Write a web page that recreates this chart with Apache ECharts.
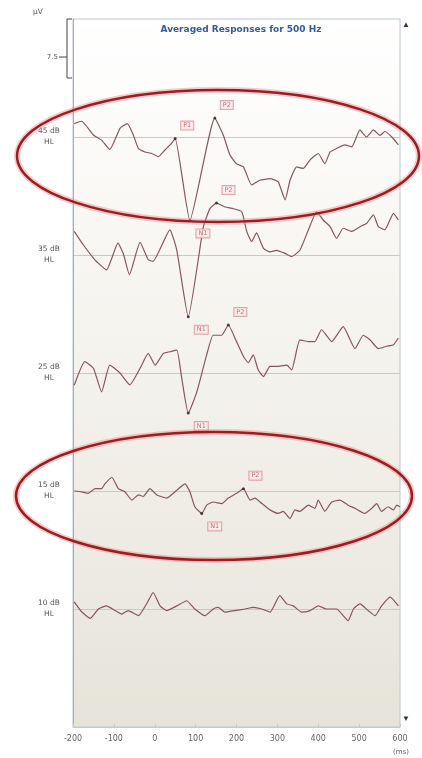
<!DOCTYPE html>
<html>
<head>
<meta charset="utf-8">
<script src="https://cdn.jsdelivr.net/npm/echarts@6/dist/echarts.min.js"></script>
<style>
  html, body { margin: 0; padding: 0; background: #fff; }
  #chart { width: 422px; height: 758px; }
</style>
</head>
<body>
<div id="chart"></div>
<script>
// 刺激强度 (dB HL) 与每条曲线的基线位置 (µV)
const levels = ['45 dB', '35 dB', '25 dB', '15 dB', '10 dB']
const offsets = [75, 60, 45, 30, 15]
const xTicks = [-200, -100, 0, 100, 200, 300, 400, 500, 600]

// 各强度下的平均波形 [时间 ms, 相对基线的幅值 µV]
const trace45 = [[-197,1.7],[-179,2.0],[-150,0.25],[-130,-0.4],[-110,-1.6],[-85,1.1],[-67,1.7],[-52,0.2],[-40,-1.45],[-24,-1.9],[-7,-2.1],[9,-2.5],[25,-1.65],[41,-0.8],[50,-0.2],[86,-10.6],[147,2.4],[168,0.2],[184,-2.3],[200,-3.4],[217,-3.8],[237,-6.1],[257,-5.5],[282,-5.3],[302,-5.7],[319,-8.0],[331,-5.5],[347,-3.8],[363,-4.0],[380,-2.9],[400,-2.1],[416,-3.4],[429,-1.9],[445,-1.45],[465,-1.0],[482,-1.25],[502,0.9],[518,0],[535,0.9],[551,0.2],[563,0.7],[580,0],[596,-1.0]]
const trace35 = [[-197,3.0],[-175,1.3],[-150,-0.4],[-142,-0.85],[-118,-1.9],[-90,1.5],[-77,0.2],[-62,-2.5],[-36,1.6],[-16,-0.6],[-4,-0.8],[37,3.2],[54,0.6],[82,-7.85],[119,3.6],[135,5.9],[151,6.6],[172,6.1],[192,5.9],[213,5.5],[225,3.0],[237,1.7],[249,2.8],[266,0.85],[282,0.4],[298,0.6],[319,0.2],[335,-0.2],[355,0.6],[376,3.2],[396,5.5],[412,4.45],[429,3.6],[445,2.1],[461,3.4],[482,3.0],[502,3.6],[518,4.0],[535,5.1],[547,3.6],[563,3.2],[584,5.3],[596,4.45]]
const trace25 = [[-197,-1.55],[-171,1.45],[-150,0.6],[-130,-2.4],[-110,1.0],[-85,0],[-61,-1.5],[-36,0.6],[-16,2.5],[1,1.0],[21,2.5],[37,2.7],[54,2.9],[66,-0.65],[82,-5.1],[103,-2.4],[127,2.3],[143,4.8],[164,4.8],[180,6.1],[200,4.0],[217,2.1],[229,1.3],[241,2.3],[253,0.4],[266,-0.45],[282,0.85],[302,0.85],[323,1.0],[335,0.4],[355,4.2],[376,4.0],[392,4.0],[408,5.5],[433,4.0],[461,5.9],[490,3.1],[510,4.8],[527,4.2],[547,3.1],[567,3.4],[584,3.6],[596,4.45]]
const trace15 = [[-197,0],[-179,-0.1],[-163,-0.3],[-146,0.3],[-130,0.3],[-122,0.9],[-105,1.75],[-89,0.3],[-73,-0.1],[-56,-1.15],[-40,-0.5],[-28,-0.7],[-12,0.3],[5,-0.5],[29,-0.9],[54,0.1],[74,0.9],[86,-0.1],[98,-2.0],[115,-2.85],[127,-1.8],[143,-1.4],[164,-1.6],[180,-0.9],[200,-0.3],[217,0.3],[233,-1.15],[245,-0.9],[262,-1.6],[282,-2.4],[302,-2.85],[314,-2.6],[331,-3.5],[343,-2.4],[355,-2.6],[376,-1.8],[392,-2.2],[400,-1.15],[416,-2.6],[433,-1.4],[453,-1.15],[473,-1.8],[490,-2.2],[514,-2.85],[531,-2.2],[543,-1.6],[555,-2.6],[571,-2.0],[584,-2.4],[592,-1.8],[600,-2.0]]
const trace10 = [[-197,0.9],[-179,-0.35],[-158,-1.2],[-138,0],[-118,0.4],[-97,-0.2],[-81,-0.65],[-65,-0.2],[-40,-0.85],[-20,0.65],[-4,2.1],[13,0.4],[29,-0.2],[54,0.4],[78,1.05],[98,0],[123,-0.85],[143,0],[155,0.2],[172,-0.4],[196,-0.2],[221,0],[241,0.2],[262,0],[282,-0.4],[306,1.7],[323,0.65],[339,0.4],[359,-0.4],[380,-0.2],[400,0.4],[420,0],[445,0],[461,-0.85],[473,-1.5],[486,0],[502,0.65],[522,-0.2],[539,-0.85],[555,0.4],[576,1.5],[596,0.4]]
const traces = [trace45, trace35, trace25, trace15, trace10]

// 标出的波峰 (P1 / N1 / P2)
const peakTrace = [0, 0, 0, 1, 1, 2, 2, 3, 3]
const peakName = ['P1', 'N1', 'P2', 'N1', 'P2', 'N1', 'P2', 'N1', 'P2']
const peakTime = [50, 86, 147, 82, 151, 82, 180, 115, 217]
const peakValue = [-0.2, -10.6, 2.4, -7.85, 6.6, -5.1, 6.1, -2.85, 0.3]

const chart = echarts.init(document.getElementById('chart'))
const lineColor = '#87565a'

const series = traces.map((tr, i) => ({
    type: 'line',
    data: tr.map(p => [p[0], offsets[i] + p[1]]),
    showSymbol: false,
    smooth: 0.15,
    lineStyle: { color: lineColor, width: 1.2 },
    silent: true,
    z: 3,
}))

// 波峰的小黑点 + 粉色方框标签
series.push({
    type: 'scatter',
    symbolSize: 3,
    itemStyle: { color: '#222' },
    z: 5,
    data: peakName.map((n, k) => ({
        value: [peakTime[k], offsets[peakTrace[k]] + peakValue[k]],
        name: n,
        label: {
            show: true,
            position: 'inside',
            offset: n === 'N1' ? [13, 13] : [12, -13],
            formatter: '{b}',
            fontSize: 6.5,
            fontFamily: 'DejaVu Sans',
            color: '#c0474d',
            backgroundColor: '#fbeeee',
            borderColor: '#dc8e93',
            borderWidth: 1,
            padding: [1, 2, 0, 2],
        },
    })),
})

const option = {
    animation: false,
    title: {
        text: 'Averaged Responses for 500 Hz',
        left: 236,
        top: 20,
        textAlign: 'center',
        textStyle: { color: '#2f5c9e', fontSize: 9, fontWeight: 'bold', fontFamily: 'DejaVu Sans' },
    },
    grid: {
        left: 73, right: 22, top: 19, bottom: 31,
        show: true,
        borderColor: '#bcc6d2',
        borderWidth: 1,
        backgroundColor: new echarts.graphic.LinearGradient(0, 0, 0, 1, [
            { offset: 0, color: '#ffffff' },
            { offset: 0.45, color: '#f5f3ee' },
            { offset: 1, color: '#e6e4d9' },
        ]),
    },
    xAxis: {
        type: 'value',
        min: -200, max: 600, interval: 100,
        axisLine: { lineStyle: { color: '#c6cacf' } },
        axisTick: { inside: true, length: 3, lineStyle: { color: '#c6cacf' } },
        splitLine: { show: false },
        axisLabel: {
            color: '#666', fontSize: 8, margin: 8, fontFamily: 'DejaVu Sans',
            formatter: v => (xTicks.indexOf(v) >= 0 ? String(v) : ''),
        },
    },
    yAxis: {
        type: 'value',
        min: 0, max: 90, interval: 15,
        axisLine: { show: true, onZero: false, lineStyle: { color: '#a9adb3' } },
        axisTick: { show: false },
        splitLine: { show: true, showMinLine: false, showMaxLine: false, lineStyle: { color: '#c9c9c9', width: 1 } },
        axisLabel: {
            align: 'center', margin: 24, fontSize: 7.5, lineHeight: 11, color: '#555', fontFamily: 'DejaVu Sans',
            formatter: v => {
                const i = offsets.indexOf(v)
                return i >= 0 ? levels[i] + '\nHL' : ''
            },
        },
    },
    graphic: [
        // µV 标尺
        { type: 'text', left: 33, top: 8, style: { text: 'µV', fontSize: 7.5, fill: '#555', fontFamily: 'DejaVu Sans' } },
        { type: 'polyline', shape: { points: [[72, 19], [67, 19], [67, 78], [72, 78]] }, style: { stroke: '#444', lineWidth: 1, fill: null } },
        { type: 'line', shape: { x1: 59, y1: 57, x2: 67, y2: 57 }, style: { stroke: '#444', lineWidth: 1 } },
        { type: 'text', x: 58, y: 57, style: { text: '7.5', fontSize: 7, fill: '#555', align: 'right', verticalAlign: 'middle', fontFamily: 'DejaVu Sans' } },
        // 滚动箭头
        { type: 'text', x: 406, y: 25, style: { text: '▲', fontSize: 8, fill: '#333', align: 'center', verticalAlign: 'middle' } },
        { type: 'text', x: 406, y: 719, style: { text: '▼', fontSize: 8, fill: '#333', align: 'center', verticalAlign: 'middle' } },
        { type: 'text', x: 393, y: 752, style: { text: '(ms)', fontSize: 7, fill: '#666', verticalAlign: 'middle', fontFamily: 'DejaVu Sans' } },
        // 两个红色圈注
        { type: 'ellipse', z: 20, shape: { cx: 218, cy: 156, rx: 201, ry: 66 }, style: { stroke: 'rgba(235,140,140,0.45)', lineWidth: 6, fill: null } },
        { type: 'ellipse', z: 21, shape: { cx: 218, cy: 156, rx: 201, ry: 66 }, style: { stroke: '#9b1d24', lineWidth: 2.5, fill: null } },
        { type: 'ellipse', z: 20, shape: { cx: 214, cy: 496, rx: 198, ry: 64 }, style: { stroke: 'rgba(235,140,140,0.45)', lineWidth: 6, fill: null } },
        { type: 'ellipse', z: 21, shape: { cx: 214, cy: 496, rx: 198, ry: 64 }, style: { stroke: '#9b1d24', lineWidth: 2.5, fill: null } },
    ],
    series: series,
}

chart.setOption(option)
</script>
</body>
</html>
